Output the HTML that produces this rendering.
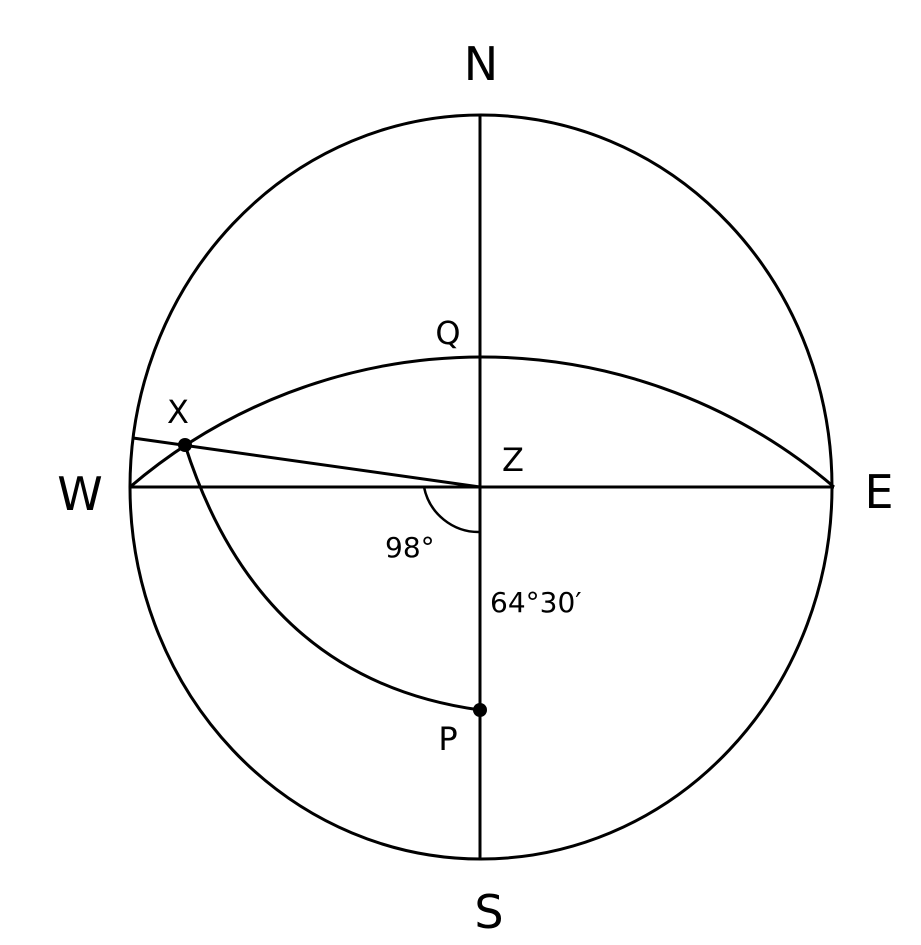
<!DOCTYPE html>
<html><head><meta charset="utf-8"><style>html,body{margin:0;padding:0;background:#fff}svg{display:block}</style></head>
<body>
<svg width="921" height="945" viewBox="0 0 921 945" xmlns="http://www.w3.org/2000/svg">
<g fill="none" stroke="#000" stroke-width="3">
<ellipse cx="481" cy="487" rx="351" ry="372"/>
<line x1="480" y1="115" x2="480" y2="860"/>
<line x1="130" y1="487" x2="834" y2="487"/>
<path d="M130,487 A541.5 541.5 0 0 1 834,487"/>
<line x1="133" y1="438" x2="480" y2="487"/>
<path d="M185,445 Q260,680 480,710"/>
<path d="M424,487 A56 56 0 0 0 480,532" stroke-width="2.5"/>
</g>
<circle cx="185" cy="445" r="7"/>
<circle cx="480" cy="710" r="7"/>
<g font-family="'DejaVu Sans','Liberation Sans',sans-serif" fill="#000">
<text x="481" y="80" font-size="46" text-anchor="middle">N</text>
<text x="489" y="928" font-size="46" text-anchor="middle">S</text>
<text x="80" y="510" font-size="46" text-anchor="middle">W</text>
<text x="879" y="508" font-size="46" text-anchor="middle">E</text>
<text x="448" y="344" font-size="32" text-anchor="middle">Q</text>
<text x="178" y="423" font-size="32" text-anchor="middle">X</text>
<text x="513" y="471" font-size="32" text-anchor="middle">Z</text>
<text x="448" y="750" font-size="32" text-anchor="middle">P</text>
<text x="385" y="557" font-size="28">98°</text>
<text x="490" y="612" font-size="28">64°30′</text>
</g>
</svg>
</body></html>
